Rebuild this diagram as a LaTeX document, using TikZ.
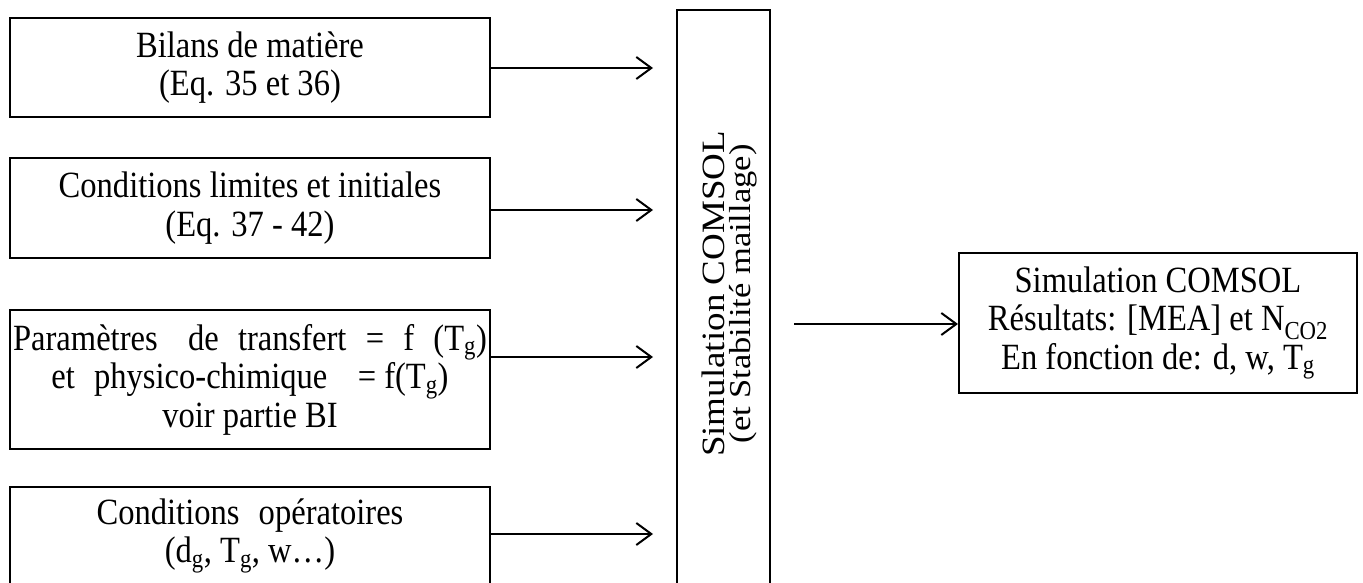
\documentclass[tikz,border=0pt]{standalone}
\usepackage{fontspec}
\setmainfont{Liberation Serif}[FakeStretch=0.88]
\newfontfamily\plainserif{Liberation Serif}
\usetikzlibrary{arrows.meta}
\newcommand{\sbs}[1]{\textsubscript{#1}}
\newcommand{\ws}{\hspace{0.3em}}
\tikzset{
  box/.style={draw=black, line width=2pt, inner sep=0pt, align=center, font=\fontsize{37}{38.5}\selectfont},
  txt/.style={inner sep=0pt, align=center, font=\fontsize{37}{38.5}\selectfont},
  rtxt/.style={inner sep=0pt, rotate=90},
  arr/.style={line width=2pt, -{Straight Barb[length=15pt,width=22pt,line width=2pt]}},
}
\begin{document}
\begin{tikzpicture}[x=1pt,y=-1pt]
\useasboundingbox (0,0) rectangle (1363,583);
\clip (0,0) rectangle (1363,583);
\fill[white] (0,0) rectangle (1363,583);
\node[box, minimum width=480pt, minimum height=99pt] (b1) at (250,67.5) {Bilans de matière\\(Eq. 35 et 36)};
\node[box, minimum width=480pt, minimum height=100pt] (b2) at (250,208) {Conditions limites et initiales\\(Eq. 37 - 42)};
\node[box, minimum width=480pt, minimum height=139pt] (b3) at (250,379.5) {Paramètres\ws\ws{} de\ws{} transfert\ws{} =\ws{} f\ws{} (T\sbs{g})\\et\ws{} physico-chimique\ws\ws{} = f(T\sbs{g})\\voir partie BI};
\node[box, minimum width=480pt, minimum height=113pt] (b4) at (250,543.5) {};
\node[txt] (t4) at (250,536) {Conditions\ws{} opératoires\\(d\sbs{g}, T\sbs{g}, w…)};
\node[box, minimum width=93pt, minimum height=590pt] (sim) at (723.5,305) {};
\node[rtxt] (simt1) at (713,294) {\scalebox{1}[0.88]{\plainserif\fontsize{37}{37}\selectfont Simulation COMSOL}};
\node[rtxt] (simt2) at (743,294) {\scalebox{1}[0.88]{\plainserif\fontsize{34.5}{37}\selectfont (et Stabilité maillage)}};
\node[box, minimum width=398pt, minimum height=140pt] (res) at (1158,323) {Simulation COMSOL\\Résultats: [MEA] et N\sbs{CO2}\\En fonction de: d, w, T\sbs{g}};
\coordinate (e1) at (653,68);
\coordinate (e2) at (653,210);
\coordinate (e3) at (653,357);
\coordinate (e4) at (653,534);
\coordinate (s5) at (794,324);
\draw[arr] (b1.east |- e1) -- (e1);
\draw[arr] (b2.east |- e2) -- (e2);
\draw[arr] (b3.east |- e3) -- (e3);
\draw[arr] (b4.east |- e4) -- (e4);
\draw[arr] (s5) -- (res.west |- s5);
\end{tikzpicture}
\end{document}
